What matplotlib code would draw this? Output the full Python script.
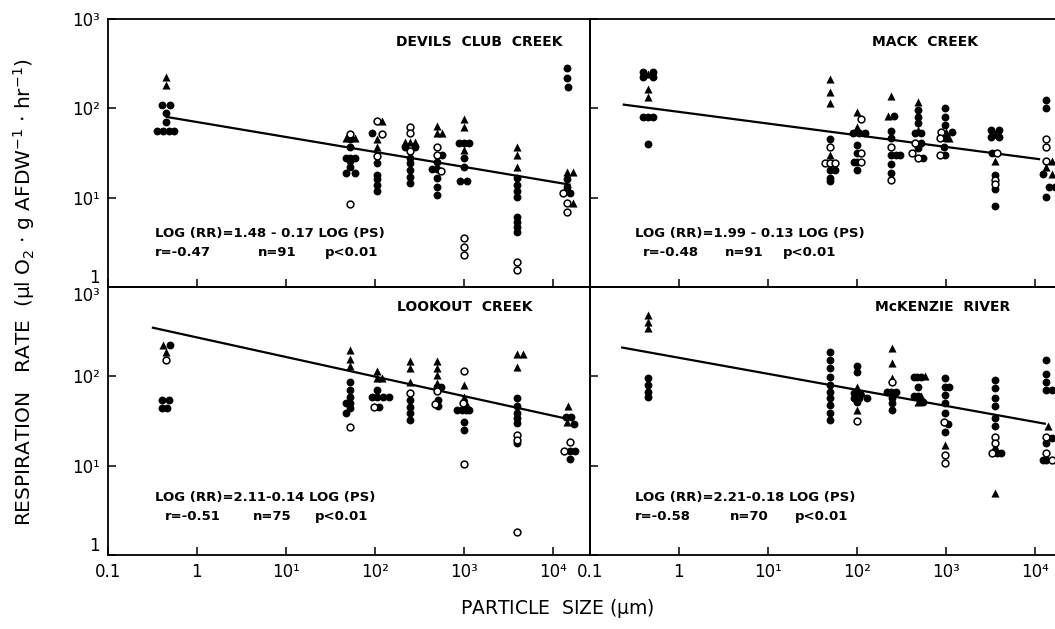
import matplotlib
matplotlib.use("Agg")
import matplotlib.pyplot as plt

# ── data: (particle size um, respiration rate, marker kind)
# kind: f = filled circle, o = open circle, t = filled triangle
devils_pts = [
    (0.45, 224, 't'), (0.45, 183, 't'), (0.40, 109, 'f'), (0.50, 109, 'f'),
    (0.45, 89, 'f'), (0.45, 71, 'f'), (0.36, 56, 'f'), (0.42, 56, 'f'),
    (0.48, 56, 'f'), (0.55, 56, 'f'),
    (53, 51, 'o'), (47, 47, 't'), (60, 47, 't'), (53, 45, 'f'), (53, 37, 'f'),
    (47, 28, 'f'), (53, 28, 'f'), (60, 28, 'f'), (53, 26, 'f'), (53, 22, 'f'),
    (47, 19, 'f'), (60, 19, 'f'), (53, 8.5, 'o'),
    (105, 72, 'o'), (120, 72, 't'), (93, 53, 'f'), (120, 51, 'o'), (105, 45, 't'),
    (105, 37, 't'), (105, 29, 'o'), (105, 24.5, 'f'), (105, 18, 'f'),
    (105, 16, 'f'), (105, 14, 'f'), (105, 12, 'f'),
    (250, 62, 'o'), (250, 53, 'o'), (220, 42, 't'), (250, 42, 't'), (285, 42, 't'),
    (220, 37, 'f'), (285, 37, 'f'), (250, 33, 'o'), (250, 28, 'f'),
    (250, 24.5, 'f'), (250, 20.5, 'f'), (250, 17, 'f'), (250, 14.5, 'f'),
    (500, 63, 't'), (500, 53, 't'), (570, 53, 't'), (500, 37, 'o'), (500, 30, 'o'),
    (570, 30, 'f'), (500, 25, 'f'), (440, 21, 'f'), (500, 21, 'f'), (560, 20, 'o'),
    (500, 16.5, 'f'), (500, 13, 'f'), (500, 10.8, 'f'),
    (1000, 76, 't'), (1000, 62, 't'), (880, 41, 'f'), (1000, 41, 'f'),
    (1140, 41, 'f'), (1000, 34, 't'), (1000, 27.5, 'f'), (1000, 22, 'f'),
    (900, 15.5, 'f'), (1100, 15.5, 'f'), (1000, 3.5, 'o'), (1000, 2.8, 'o'),
    (1000, 2.3, 'o'),
    (4000, 37, 't'), (4000, 30, 't'), (4000, 22, 't'), (4000, 16.5, 'f'),
    (4000, 14, 'f'), (4000, 12, 'f'), (4000, 10.3, 'f'), (4000, 6, 'f'),
    (4000, 5.3, 'f'), (4000, 4.7, 'f'), (4000, 4.1, 'f'), (4000, 1.9, 'o'),
    (4000, 1.55, 'o'),
    (14500, 280, 'f'), (14500, 218, 'f'), (14800, 175, 'f'), (14500, 19.5, 't'),
    (16800, 19.5, 't'), (14500, 16, 'f'), (14500, 13, 'f'), (13000, 11.2, 'o'),
    (15500, 11.2, 'f'), (14500, 8.7, 'o'), (17000, 8.7, 't'), (14500, 6.9, 'o'),
]

mack_pts = [
    (0.39, 256, 'f'), (0.51, 256, 'f'), (0.45, 240, 't'), (0.39, 224, 'f'),
    (0.51, 224, 'f'), (0.45, 165, 't'), (0.45, 134, 't'), (0.39, 79, 'f'),
    (0.45, 79, 'f'), (0.51, 79, 'f'), (0.45, 40, 'f'),
    (50, 214, 't'), (50, 152, 't'), (50, 115, 't'), (50, 45, 'f'), (50, 37, 'o'),
    (50, 30, 't'), (44, 24.5, 'o'), (50, 24.5, 'o'), (57, 24.5, 'o'),
    (50, 20.5, 'f'), (57, 20.5, 'f'), (50, 16.6, 'f'), (50, 15.5, 'f'),
    (100, 91, 't'), (112, 76, 'o'), (100, 62, 't'), (90, 53, 'f'), (105, 53, 'f'),
    (125, 53, 'f'), (100, 39, 'f'), (100, 31.5, 'f'), (112, 31.5, 'o'),
    (92, 25, 'f'), (100, 25, 'f'), (112, 25, 'o'), (100, 20.5, 'f'),
    (240, 137, 't'), (225, 83, 't'), (260, 83, 'f'), (240, 56, 'f'), (240, 47, 'f'),
    (240, 37, 'o'), (240, 30, 'f'), (275, 30, 'f'), (310, 30, 'f'), (240, 24, 'f'),
    (240, 19, 'f'), (240, 15.8, 'o'),
    (490, 117, 't'), (490, 95, 'f'), (490, 79, 'f'), (490, 69, 'f'), (490, 57, 't'),
    (450, 53, 'f'), (530, 53, 'f'), (450, 41, 'o'), (530, 41, 'f'), (490, 36, 'f'),
    (420, 31.6, 'o'), (490, 28, 'o'), (560, 27.5, 'f'),
    (970, 100, 'f'), (970, 79, 'f'), (970, 65, 'f'), (880, 54, 'o'), (1000, 54, 't'),
    (1180, 54, 'f'), (860, 47, 'o'), (990, 47, 'f'), (1100, 46, 't'), (960, 37, 'f'),
    (870, 30, 'o'), (990, 30, 'f'),
    (3200, 57, 'f'), (4000, 57, 'f'), (3600, 52, 't'), (3200, 48, 'f'),
    (4000, 48, 'f'), (3300, 31.6, 'f'), (3800, 31.6, 'o'), (3600, 26, 't'),
    (3600, 18, 'f'), (3600, 15.8, 'o'), (3600, 14.3, 'o'), (3600, 12.4, 'f'),
    (3600, 8, 'f'),
    (13500, 124, 'f'), (13500, 100, 'f'), (13500, 45, 'o'), (13500, 36.5, 'o'),
    (13500, 26, 'o'), (15500, 26, 't'), (13500, 22, 't'), (12500, 18.3, 'f'),
    (15500, 18.3, 't'), (14500, 13.2, 'f'), (17000, 13.2, 'f'), (13500, 10.3, 'f'),
]

lookout_pts = [
    (0.42, 224, 't'), (0.50, 224, 'f'), (0.45, 188, 't'), (0.45, 152, 'o'),
    (0.40, 54, 'f'), (0.49, 54, 'f'), (0.40, 44, 'f'), (0.46, 44, 'f'),
    (53, 197, 't'), (53, 158, 't'), (53, 131, 't'), (53, 87, 'f'), (53, 71, 'f'),
    (53, 59, 'f'), (47, 50, 'f'), (53, 50, 'f'), (53, 44, 'f'), (47, 39, 'f'),
    (53, 27, 'o'),
    (105, 115, 't'), (105, 96, 't'), (120, 96, 't'), (105, 71, 'f'), (93, 59, 'f'),
    (105, 59, 'f'), (125, 59, 'f'), (145, 59, 'f'), (97, 45, 'o'), (112, 45, 'f'),
    (250, 147, 't'), (250, 124, 't'), (250, 87, 't'), (250, 65, 'o'), (250, 54, 'f'),
    (250, 45, 'f'), (250, 39, 'f'), (250, 32.5, 'f'),
    (500, 147, 't'), (500, 124, 't'), (500, 103, 't'), (500, 84, 't'), (500, 76, 'f'),
    (560, 76, 'f'), (500, 68, 'o'), (520, 55, 'f'), (470, 49, 'o'), (520, 46, 'f'),
    (1000, 115, 'o'), (1000, 81, 't'), (1000, 59, 't'), (970, 50, 'o'),
    (1050, 50, 't'), (850, 42, 'f'), (950, 42, 'f'), (1050, 42, 'f'), (1150, 42, 'f'),
    (1000, 31, 'f'), (1000, 25, 'f'), (1000, 10.5, 'o'),
    (4000, 178, 't'), (4600, 178, 't'), (4000, 127, 't'), (4000, 57, 'f'),
    (4000, 46, 'f'), (4000, 39, 'f'), (4000, 34, 'f'), (4000, 30, 'f'),
    (4000, 22, 'o'), (4000, 19.5, 'o'), (4000, 17.8, 'f'), (4000, 1.8, 'o'),
    (15000, 47, 't'), (14000, 35, 'f'), (16000, 35, 'f'), (14500, 31, 't'),
    (17500, 29, 'f'), (15500, 18.3, 'o'), (13500, 14.5, 'o'), (15500, 14.5, 'f'),
    (18000, 14.5, 'f'), (15500, 11.8, 'f'),
]

mckenzie_pts = [
    (0.45, 490, 't'), (0.45, 410, 't'), (0.45, 350, 't'), (0.45, 95, 'f'),
    (0.45, 79, 'f'), (0.45, 66, 'f'), (0.45, 59, 'f'),
    (50, 187, 'f'), (50, 152, 'f'), (50, 123, 'f'), (50, 98, 'f'), (50, 79, 'f'),
    (50, 66, 'f'), (50, 57, 'f'), (50, 48, 'f'), (50, 39, 'f'), (50, 32.5, 'f'),
    (100, 131, 'f'), (100, 112, 'f'), (100, 76, 't'), (92, 65, 'f'), (103, 65, 'f'),
    (115, 65, 't'), (94, 57, 'f'), (107, 57, 'f'), (130, 57, 'f'), (100, 52, 'f'),
    (100, 42, 't'), (100, 31.6, 'o'),
    (250, 208, 't'), (250, 141, 't'), (250, 96, 't'), (250, 86, 'o'), (220, 66, 'f'),
    (245, 66, 'f'), (275, 66, 'f'), (250, 57, 'f'), (250, 50, 'f'), (250, 42, 'f'),
    (440, 98, 'f'), (480, 98, 'f'), (530, 98, 'f'), (580, 100, 't'), (490, 76, 'f'),
    (440, 60, 'f'), (490, 60, 'f'), (530, 60, 't'), (490, 52, 't'), (550, 52, 'f'),
    (970, 95, 'f'), (970, 76, 'f'), (1100, 76, 'f'), (970, 62, 'f'), (970, 50, 'f'),
    (970, 39, 'f'), (960, 31, 'o'), (1050, 29, 'f'), (970, 24, 'f'), (970, 17, 't'),
    (970, 13, 'o'), (970, 10.8, 'o'),
    (3600, 91, 'f'), (3600, 74, 'f'), (3600, 57, 'f'), (3600, 46, 'f'),
    (3600, 34, 'f'), (3600, 28, 'f'), (3600, 21, 'o'), (3600, 18, 'o'),
    (3600, 16.5, 't'), (3300, 14, 'o'), (3800, 14, 'f'), (4200, 14, 'f'),
    (3600, 5, 't'),
    (13500, 152, 'f'), (13500, 107, 'f'), (13500, 86, 'f'), (13500, 71, 'f'),
    (15500, 71, 'f'), (14000, 28, 't'), (13500, 21, 'o'), (15500, 20.5, 'f'),
    (13500, 18, 'f'), (13500, 14, 'o'), (12500, 11.6, 'f'), (13500, 11.6, 'f'),
    (15500, 11.6, 'o'),
]

# fitted lines as drawn (end points)
devils_fit = ([0.46, 15500], [80, 14])
mack_fit = ([0.24, 11200], [110, 27])
lookout_fit = ([0.32, 15500], [350, 33])
mckenzie_fit = ([0.23, 13000], [210, 29.5])

titles = ["DEVILS  CLUB  CREEK", "MACK  CREEK", "LOOKOUT  CREEK", "McKENZIE  RIVER"]
equations = [
    "LOG (RR)=1.48 - 0.17 LOG (PS)",
    "LOG (RR)=1.99 - 0.13 LOG (PS)",
    "LOG (RR)=2.11-0.14 LOG (PS)",
    "LOG (RR)=2.21-0.18 LOG (PS)",
]
stats = [
    ("r=-0.47", "n=91", "p<0.01"),
    ("r=-0.48", "n=91", "p<0.01"),
    ("r=-0.51", "n=75", "p<0.01"),
    ("r=-0.58", "n=70", "p<0.01"),
]

x_ticks = [0.1, 1, 10, 100, 1000, 10000]
x_labels = ["0.1", "1", "10¹", "10²", "10³", "10⁴"]
y_ticks = [1, 10, 100, 1000]
y_labels = ["1", "10¹", "10²", "10³"]

# ── layout ───────────────────────────────────────────────────────────────────
W, H = 1055, 629
fig = plt.figure(figsize=(W / 100, H / 100), dpi=100, facecolor="white")

ax_w = 482 / W
ax_h = 268 / H
lefts = [108 / W, 590 / W]
bottoms = [1 - 287 / H, 1 - 555 / H]

panels = [
    (devils_pts, devils_fit, 0, 0),
    (mack_pts, mack_fit, 0, 1),
    (lookout_pts, lookout_fit, 1, 0),
    (mckenzie_pts, mckenzie_fit, 1, 1),
]

# per-panel text placement in axes fractions
title_x = [0.598, 0.585, 0.600, 0.591]
title_y = [0.915, 0.915, 0.925, 0.925]
eq_x = [0.098, 0.093, 0.098, 0.093]
eq_y = [0.200, 0.200, 0.215, 0.215]
st_x = [(0.098, 0.31, 0.45), (0.11, 0.28, 0.40),
        (0.118, 0.30, 0.43), (0.093, 0.29, 0.425)]

FONT = "DejaVu Sans"

for i, (pts, fit, row, col) in enumerate(panels):
    ax = fig.add_axes([lefts[col], bottoms[row], ax_w, ax_h])
    ax.set_xscale("log")
    ax.set_yscale("log")
    ax.set_xlim(0.1, 10 ** 4.42)
    ax.set_ylim(1, 1000)
    ax.minorticks_off()
    ax.set_facecolor("none")
    for sp in ax.spines.values():
        sp.set_linewidth(1.3)

    ax.plot(fit[0], fit[1], color="black", lw=1.6, zorder=2)

    for kind, style in [("f", dict(marker="o", s=32, c="black", linewidths=0)),
                        ("t", dict(marker="^", s=34, c="black", linewidths=0)),
                        ("o", dict(marker="o", s=24, facecolors="white",
                                   edgecolors="black", linewidths=1.1))]:
        xs = [p[0] for p in pts if p[2] == kind]
        ys = [p[1] for p in pts if p[2] == kind]
        ax.scatter(xs, ys, zorder=3, clip_on=(col == 0), **style)

    ax.set_xticks(x_ticks)
    ax.set_yticks(y_ticks)
    ax.tick_params(direction="in", length=6, width=1.1, pad=6,
                   labelsize=12, colors="black")
    if row == 1:
        ax.set_xticklabels(x_labels, fontfamily=FONT)
    else:
        ax.set_xticklabels([])
    if col == 0:
        ax.set_yticklabels(y_labels, fontfamily=FONT)
        for lbl in ax.get_yticklabels():
            t = lbl.get_text()
            if t == "1":
                lbl.set_va("bottom")
            elif t == "10³" and row == 1:
                lbl.set_va("top")
    else:
        ax.set_yticklabels([])

    ax.text(title_x[i], title_y[i], titles[i], transform=ax.transAxes,
            fontsize=10, fontweight="bold", ha="left", va="center",
            fontfamily=FONT)
    ax.text(eq_x[i], eq_y[i], equations[i], transform=ax.transAxes,
            fontsize=9.5, fontweight="bold", ha="left", va="center",
            fontfamily=FONT)
    for sx, s in zip(st_x[i], stats[i]):
        ax.text(sx, eq_y[i] - 0.07, s, transform=ax.transAxes,
                fontsize=9.5, fontweight="bold", ha="left", va="center",
                fontfamily=FONT)

fig.text(24 / W, 1 - 292 / H,
         r"RESPIRATION   RATE  ($\mathregular{\mu}$l O$_\mathregular{2}$ $\cdot$ g AFDW$^\mathregular{-1}$ $\cdot$ hr$^\mathregular{-1}$)",
         rotation=90, ha="center", va="center", fontsize=14.5, fontfamily=FONT)
fig.text(557 / W, 1 - 608 / H, r"PARTICLE  SIZE ($\mathregular{\mu}$m)",
         ha="center", va="center", fontsize=13.5, fontfamily=FONT)

fig.savefig("out.png", dpi=100)
